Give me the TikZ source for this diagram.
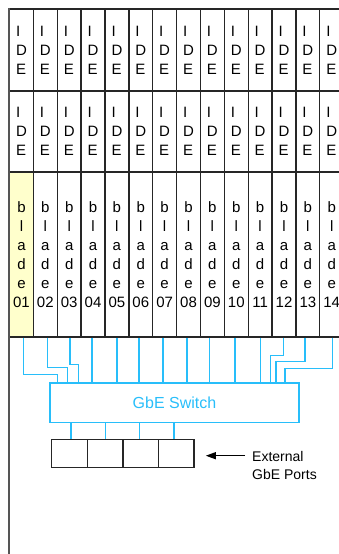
\documentclass[tikz,border=0pt]{standalone}
\usepackage{fontspec}
\setmainfont{Liberation Sans}
\usetikzlibrary{arrows.meta}
\definecolor{netblue}{RGB}{40,190,250}
\definecolor{bladefill}{RGB}{255,255,204}
\definecolor{rackgray}{RGB}{85,85,85}
\begin{document}
\begin{tikzpicture}[x=1pt,y=-1pt,
  slot/.style={draw=black!85, line width=1.3pt, minimum width=23.87pt,
    inner sep=0pt, font=\fontsize{15}{19}\selectfont},
  iderow/.style={slot, align=left, minimum height=82pt},
  bladerow/.style={slot, align=center, minimum height=165pt},
  link/.style={draw=netblue, line width=1.3pt},
  port/.style={draw=black!85, line width=1.4pt, minimum width=35.6pt,
    minimum height=28pt, inner sep=0pt},
  switchbox/.style={draw=netblue, line width=1.3pt, minimum width=249pt,
    minimum height=39.3pt, text=netblue, font=\fontsize{16}{19}\selectfont},
  extlabel/.style={anchor=west, align=left, inner sep=0pt,
    font=\fontsize{14}{17.5}\selectfont},
  pointer/.style={-{Triangle[length=10pt,width=7pt]}, line width=1.2pt}]
\useasboundingbox (0,0) rectangle (339,554);
\begin{scope}
\clip (0,0) rectangle (339,554);
% chassis slots: two IDE rows above a row of blades
\foreach \k/\n/\f in {1/01/bladefill,2/02/white,3/03/white,4/04/white,
    5/05/white,6/06/white,7/07/white,8/08/white,9/09/white,10/10/white,
    11/11/white,12/12/white,13/13/white,14/14/white}{
  \pgfmathsetmacro\cx{9.5+(\k-0.5)*23.87}
  \node[iderow] (ia\k) at (\cx,50) {I\\D\\E};
  \node[iderow] (ib\k) at (\cx,131.5) {I\\D\\E};
  \node[bladerow, fill=\f] (b\k) at (\cx,254.5) {b\\l\\a\\d\\e\\\n};
}
% chassis left wall
\draw[rackgray, line width=2pt] (ia1.north west) -- (ia1.north west |- 0,554);

% switch and external ports
\node[switchbox] (sw) at (174.5,402.65) {GbE Switch};
\foreach \k in {1,...,4}
  \node[port] (p\k) at ({51.7+(\k-0.5)*35.6},453.3) {};

% blade uplink taps
\foreach \k/\x in {1/23.3,2/47.3,3/70,4/92,5/117,6/139,7/163,8/187,
    9/209.3,10/235,11/260.7,12/283.3,13/305,14/332.7}{
  \pgfmathsetmacro\dx{\x-(9.5+(\k-0.5)*23.87)}
  \path ([xshift=\dx pt]b\k.south) coordinate (t\k);
}
% switch entry points for the jogged links
\foreach \k/\x in {1/57.7,2/67.3,3/78.3,12/270.7,13/276,14/285}
  \path (\x,0 |- sw.north) coordinate (d\k);

% jogged links
\draw[link] (t1) |- ([yshift=8pt]d1) -- (d1);
\draw[link] (t2) |- ([yshift=14.7pt]d2) -- (d2);
\draw[link] (t3) |- ([yshift=18pt]d3) -- (d3);
\draw[link] (t12) |- ([yshift=27pt]d12) -- (d12);
\draw[link] (t13) |- ([yshift=20.7pt]d13) -- (d13);
\draw[link] (t14) |- ([yshift=14pt]d14) -- (d14);
% straight links
\foreach \k in {4,...,11}
  \draw[link] (t\k) -- (t\k |- sw.north);

% switch to port links
\foreach \k/\dx in {1/1.5,2/0.6,3/-1.4,4/-2.3}{
  \path ([xshift=\dx pt]p\k.north) coordinate (q\k);
  \draw[link] (q\k) -- (q\k |- sw.south);
}

% port label with pointer
\node[extlabel] (ext) at (252,465.5) {External\\GbE Ports};
\draw[pointer] ([xshift=-7pt,yshift=9.8pt]ext.west) -- ([xshift=11pt,yshift=-2.4pt]p4.east);
\end{scope}
\end{tikzpicture}
\end{document}
